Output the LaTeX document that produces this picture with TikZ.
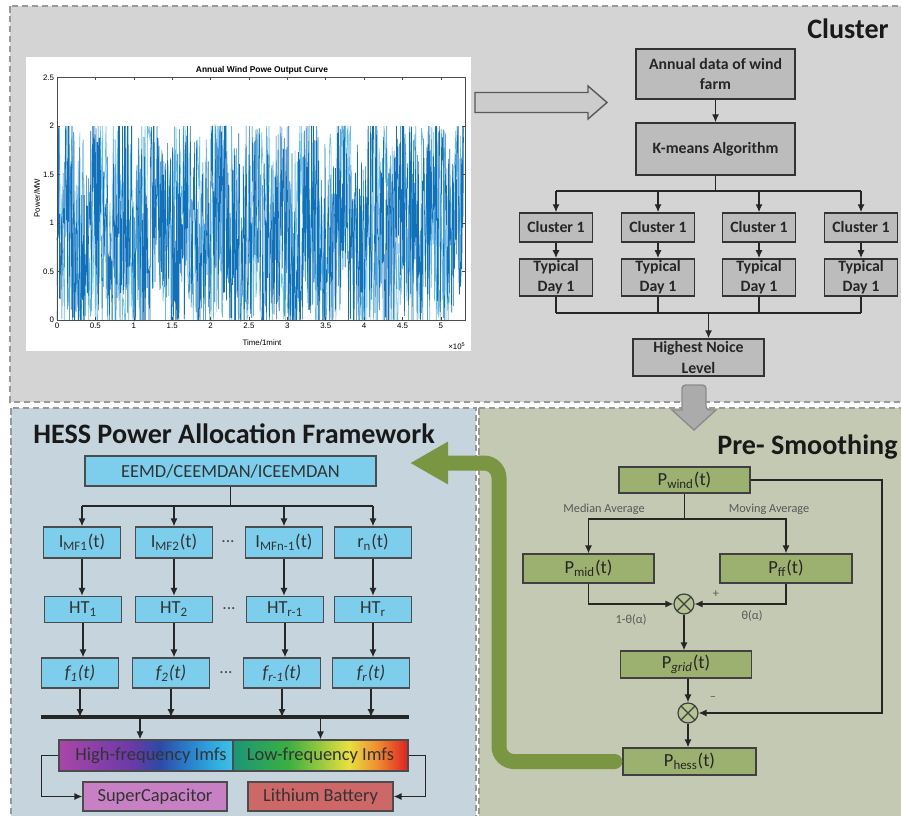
\documentclass[tikz,border=0pt]{standalone}
\usepackage{fontspec}
\setmainfont{Carlito}
\newfontfamily\plotfont{Liberation Sans}
\usetikzlibrary{calc,positioning,arrows.meta}
\definecolor{panelgray}{RGB}{212,212,212}
\definecolor{panelblue}{RGB}{197,212,221}
\definecolor{panelgreen}{RGB}{196,201,179}
\definecolor{boxgray}{RGB}{188,188,188}
\definecolor{boxblue}{RGB}{125,206,237}
\definecolor{boxgreen}{RGB}{156,176,112}
\definecolor{hessgreen}{RGB}{122,150,66}
\definecolor{windblue}{RGB}{16,112,186}
\definecolor{windlight}{RGB}{100,190,232}
\definecolor{capcolor}{RGB}{200,128,196}
\definecolor{batcolor}{RGB}{206,104,104}
\definecolor{imfpurple}{RGB}{170,70,168}
\definecolor{imfviolet}{RGB}{106,58,168}
\definecolor{imfdeep}{RGB}{44,74,168}
\definecolor{imfmid}{RGB}{42,120,200}
\definecolor{imflight}{RGB}{48,174,224}
\definecolor{imfcyan}{RGB}{64,191,230}
\definecolor{imfteal}{RGB}{26,150,120}
\definecolor{imfgreen}{RGB}{60,176,64}
\definecolor{imfyellow}{RGB}{232,224,64}
\definecolor{imforange}{RGB}{240,144,48}
\definecolor{imfred}{RGB}{224,32,32}
\pgfdeclarehorizontalshading{highimf}{100bp}{color(0bp)=(imfpurple); color(25bp)=(imfpurple); color(46bp)=(imfviolet); color(54bp)=(imfdeep); color(61bp)=(imfmid); color(70bp)=(imflight); color(75bp)=(imfcyan); color(100bp)=(imfcyan)}
\pgfdeclarehorizontalshading{lowimf}{100bp}{color(0bp)=(imfteal); color(25bp)=(imfteal); color(41bp)=(imfgreen); color(58bp)=(imfyellow); color(66bp)=(imforange); color(75bp)=(imfred); color(100bp)=(imfred)}
\tikzstyle{clbox}    = [draw=black!80, fill=boxgray, line width=0.9pt, align=center, inner sep=1pt, font=\bfseries\fontsize{9}{11}\selectfont, text=black!85, minimum width=3.18cm, minimum height=1cm]
\tikzstyle{clsmall}  = [clbox, minimum width=1.46cm, minimum height=0.58cm]
\tikzstyle{bluebox}  = [draw=black!70, fill=boxblue, line width=0.8pt, inner sep=1pt, font=\fontsize{10.5}{12}\selectfont, text=black!80, minimum width=1.54cm, minimum height=0.6cm]
\tikzstyle{greenbox} = [draw=black!75, fill=boxgreen, line width=0.8pt, inner sep=1pt, font=\fontsize{10.5}{12}\selectfont, text=black!85, minimum width=2.62cm, minimum height=0.54cm]
\tikzstyle{flow}     = [line width=0.7pt, black!85, -{Latex[length=4.5pt,width=4pt]}]

\begin{document}
\begin{tikzpicture}[x=0.02cm, y=-0.02cm,
			panel/.style={draw=black!40, line width=0.7pt, dash pattern=on 0.13cm off 0.07cm},
			title/.style={font=\bfseries\fontsize{16}{19}\selectfont, text=black!90, inner sep=0pt},
			note/.style={font=\fontsize{7}{8}\selectfont, text=black!65, inner sep=1pt},
			ticklbl/.style={font=\plotfont\fontsize{4.5}{5}\selectfont, inner sep=1.5pt},
			dots/.style={font=\fontsize{10}{12}\selectfont, text=black!70},
			mult/.style={circle, draw=black!75, fill=boxgreen!75, line width=0.7pt, minimum size=0.4cm, inner sep=0pt,
					path picture={\draw[black!75, line width=0.7pt] (path picture bounding box.north west) -- (path picture bounding box.south east)
							(path picture bounding box.north east) -- (path picture bounding box.south west);}},
			blockarrow/.style={draw=black!65, line width=0.8pt, fill=black!20, line join=miter},
			hessarrow/.style={draw=hessgreen, line width=0.3cm, rounded corners=0.3cm, line cap=round, -{Triangle[length=0.76cm,width=0.8cm]}},
		]

		\useasboundingbox (0,0) rectangle (901,815);
		\fill[white] (0,0) rectangle (901,815);

		% panels
		\path[panel, fill=panelgray] (10,6) rectangle (908,402);
		\path[panel, fill=panelblue] (11,408) rectangle (476,822);
		\path[panel, fill=panelgreen] (479,408) rectangle (908,822);

		\node[title, anchor=east] (clustertitle) at (889,29) {Cluster};
		\node[title, anchor=west] (hesstitle) at (33,434) {HESS Power Allocation Framework};
		\node[title, anchor=west] (smoothtitle) at (717,447) {Pre- Smoothing};

		% wind power curve
		\fill[white] (26,57) rectangle (471,351);
		\node[font=\plotfont\bfseries\fontsize{4.8}{5}\selectfont] (plottitle) at (262,70) {Annual Wind Powe Output Curve};
		\node[ticklbl] (xlabel) at (262,343) {Time/1mint};
		\node[ticklbl, rotate=90] (ylabel) at (37,198) {Power/MW};
		\node[ticklbl] (xscale) at (457,346) {×10\textsuperscript{5}};
		\coordinate (plotorigin) at (57,320);
		\begin{scope}[shift={(plotorigin)}, x=1.536cm, y=1.94cm]
			\pgfmathsetseed{4711}
			\draw[windlight, line width=0.35pt] plot[domain=0:5.3, samples=500] (\x, {max(0,min(2,0.95+0.3*sin(\x*700)+1.25*rand))});
			\draw[windblue, line width=0.3pt] plot[domain=0:5.3, samples=1000] (\x, {max(0,min(2,0.95+0.3*sin(\x*900)+1.2*rand))});
			\draw[black!70, line width=0.4pt] (0,0) rectangle (5.3125,2.5);
			\foreach \t in {0,0.5,1,1.5,2,2.5,3,3.5,4,4.5,5} {
				\draw[black!70, line width=0.3pt] (\t,0) -- ++(0,0.03) (\t,2.5) -- ++(0,-0.03);
				\node[ticklbl, below] at (\t,0) {\t};
			}
			\foreach \v in {0,0.5,1,1.5,2,2.5} {
				\draw[black!70, line width=0.3pt] (0,\v) -- ++(0.04,0) (5.3125,\v) -- ++(-0.04,0);
				\node[ticklbl, left] at (0,\v) {\v};
			}
		\end{scope}

		\draw[blockarrow] (475,92.5) -- (588,92.5) -- (588,86) -- (607,102.5) -- (588,119) -- (588,112.5) -- (475,112.5) -- cycle;

		% cluster
		\node[clbox] (annual) at (715.5,74) {Annual data of wind\\farm};
		\node[clbox, minimum height=1.04cm] (kmeans) at (715.5,149) {K-means Algorithm};
		\draw[flow] (annual) -- (kmeans);
		\foreach \i/\xpos in {1/556,2/658,3/759,4/861} {
			\node[clsmall] (cl\i) at (\xpos,227.5) {Cluster 1};
			\node[clsmall, minimum height=0.74cm, font=\bfseries\fontsize{9}{11.5}\selectfont] (day\i) at (\xpos,277.5) {Typical\\Day 1};
			\draw[flow] (cl\i) -- (day\i);
		}
		\node[clbox, minimum width=2.62cm, minimum height=0.74cm, font=\bfseries\fontsize{9}{11.5}\selectfont] (noise) at (698.5,357.5) {Highest Noice\\Level};

		\coordinate (clsplit) at (715.5,191);
		\coordinate (clmerge) at (708.5,313);
		\draw[line width=0.7pt, black!85] (kmeans.south) -- (clsplit) (cl1.north |- clsplit) -- (cl4.north |- clsplit);
		\draw[line width=0.7pt, black!85] (day1.south |- clmerge) -- (day4.south |- clmerge);
		\foreach \i in {1,...,4} {
			\draw[flow] (cl\i.north |- clsplit) -- (cl\i.north);
			\draw[line width=0.7pt, black!85] (day\i.south) -- (day\i.south |- clmerge);
		}
		\draw[flow] (clmerge) -- (clmerge |- noise.north);

		\draw[blockarrow, fill=black!33, draw=black!45, rounded corners=2pt] (682,410) -- (682,385) -- (706,385) -- (706,410) [sharp corners] -- (716,410) -- (694,430) -- (672,410) -- cycle;

		% HESS power allocation
		\node[bluebox, minimum width=5.82cm] (emd) at (230.5,471) {EEMD/CEEMDAN/ICEEMDAN};

		\node[bluebox, minimum height=0.62cm] (imf1) at (82,542.5) {I\textsubscript{MF1}(t)};
		\node[bluebox, minimum height=0.62cm] (imf2) at (174,542.5) {I\textsubscript{MF2}(t)};
		\node[bluebox, minimum height=0.62cm] (imf3) at (284,542.5) {I\textsubscript{MFn-1}(t)};
		\node[bluebox, minimum height=0.62cm] (imf4) at (373,542.5) {r\textsubscript{n}(t)};

		\node[bluebox, minimum height=0.52cm] (ht1) at (83,609.5) {HT\textsubscript{1}};
		\node[bluebox, minimum height=0.52cm] (ht2) at (174,609.5) {HT\textsubscript{2}};
		\node[bluebox, minimum height=0.52cm] (ht3) at (285,609.5) {HT\textsubscript{r-1}};
		\node[bluebox, minimum height=0.52cm] (ht4) at (373,609.5) {HT\textsubscript{r}};

		\node[bluebox] (sig1) at (80,673) {\textit{f\textsubscript{1}(t)}};
		\node[bluebox] (sig2) at (171,673) {\textit{f\textsubscript{2}(t)}};
		\node[bluebox] (sig3) at (282,673) {\textit{f\textsubscript{r-1}(t)}};
		\node[bluebox] (sig4) at (371,673) {\textit{f\textsubscript{r}(t)}};

		\node[dots] (dotsimf) at (228,542) {...};
		\node[dots] (dotsht) at (229,609) {...};
		\node[dots] (dotssig) at (226,673) {...};

		\coordinate (emdsplit) at (230.5,506);
		\coordinate (barleft) at (41,717);
		\coordinate (barright) at (409,717);
		\draw[line width=0.7pt, black!85] (emd.south) -- (emdsplit) (imf1.north |- emdsplit) -- (imf4.north |- emdsplit);
		\foreach \i in {1,...,4} {
			\draw[flow] (imf\i.north |- emdsplit) -- (imf\i.north);
			\draw[flow] (imf\i) -- (imf\i |- ht\i.north);
			\draw[flow] (ht\i) -- (ht\i |- sig\i.north);
			\draw[flow] (sig\i) -- (sig\i |- barleft);
		}
		\draw[line width=1.8pt, black!85] (barleft) -- (barright);

		\node[draw=black!70, line width=0.8pt, shade, shading=highimf, minimum width=3.48cm, minimum height=0.62cm, inner sep=0pt, font=\fontsize{10.5}{12}\selectfont, text=black!80] (hf) at (146,755.5) {\hspace{0.2cm}High-frequency Imfs};
		\node[draw=black!70, line width=0.8pt, shade, shading=lowimf, minimum width=3.5cm, minimum height=0.62cm, inner sep=0pt, font=\fontsize{10.5}{12}\selectfont, text=black!80] (lf) at (320.5,755.5) {Low-frequency Imfs};
		\draw[flow] (hf.north -| 140,0) ++(0,-21) -- (hf.north -| 140,0);
		\draw[flow] (lf.north |- barleft) -- (lf.north);

		\node[bluebox, fill=capcolor, minimum width=2.88cm, minimum height=0.58cm] (supercap) at (155,796.5) {SuperCapacitor};
		\node[bluebox, fill=batcolor, minimum width=2.9cm, minimum height=0.58cm] (battery) at (320.5,796.5) {Lithium Battery};
		\draw[flow] (hf.west) -- ++(-17,0) |- (supercap.west);
		\draw[flow] (lf.east) -- ++(17,0) |- (battery.east);

		% pre-smoothing
		\node[greenbox, minimum height=0.52cm] (pwind) at (684.5,480) {P\textsubscript{wind}(t)};
		\node[greenbox, minimum height=0.58cm] (pmid) at (588.5,568.5) {P\textsubscript{mid}(t)};
		\node[greenbox, minimum width=2.64cm, minimum height=0.58cm] (pff) at (786,568.5) {P\textsubscript{ff}(t)};
		\node[mult] (mix1) at (684,604) {};
		\node[greenbox] (pgrid) at (686,664.5) {P\textsubscript{\textit{grid}}(t)};
		\node[mult] (mix2) at (688,713) {};
		\node[greenbox, minimum width=2.66cm] (phess) at (689.5,761.5) {P\textsubscript{hess}(t)};

		\node[note] (medlbl) at (604,509) {Median Average};
		\node[note] (movlbl) at (769,509) {Moving Average};
		\node[note] (pluslbl) at (716,594) {+};
		\node[note] (minuslbl) at (713,699) {–};
		\node[note] (wmid) at (631,620) {1-θ(α)};
		\node[note] (wff) at (752,616) {θ(α)};

		\coordinate (avgsplit) at (684.5,519);
		\coordinate (feedback) at (882,0);
		\draw[line width=0.7pt, black!85] (pwind.south) -- (avgsplit);
		\draw[flow] (avgsplit) -| (pmid.north);
		\draw[flow] (avgsplit) -| (pff.north);
		\draw[flow] (pmid.south) |- (mix1.west);
		\draw[flow] (pff.south) |- (mix1.east);
		\draw[flow] (mix1) -- (mix1 |- pgrid.north);
		\draw[flow] (pgrid.south -| mix2) -- (mix2.north);
		\draw[flow] (pwind.east) -- (pwind.east -| feedback) |- (mix2.east);
		\draw[flow] (mix2.south) -- (mix2.south |- phess.north);

		\coordinate (hessturn) at (499,463);
		\coordinate (hessin) at (410,463);
		\draw[hessarrow, shorten <=0.15cm] (phess.west) -| (hessturn) -- (hessin);
	\end{tikzpicture}
\end{document}
